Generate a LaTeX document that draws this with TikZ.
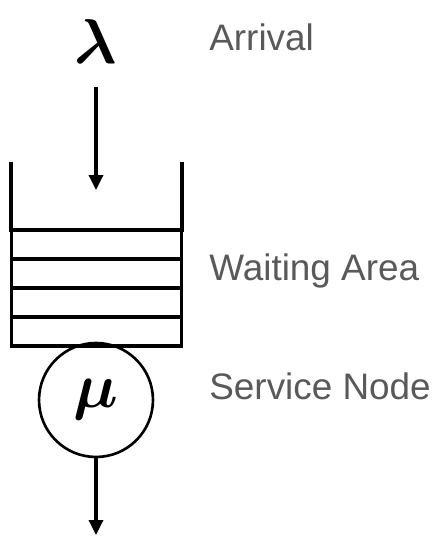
\RequirePackage{fix-cm}
\documentclass[tikz,border=0pt]{standalone}
\usepackage{amsmath}
\usepackage{bm}
\usepackage{fontspec}
\usetikzlibrary{positioning, arrows.meta}
\newfontfamily\labelfont{Liberation Sans}
\definecolor{cLABEL}{HTML}{595959}
\tikzset{
  wall/.style={line width=1.9pt, line cap=rect},
  slot/.style={
    draw, line width=1.9pt,
    inner sep=0pt,
    minimum width=3.4cm,
    minimum height=0.58cm
  },
  server/.style={
    draw, circle, line width=1.5pt,
    inner sep=0pt,
    minimum size=2.28cm,
    font=\fontsize{36}{40}\selectfont
  },
  flow/.style={
    -{Triangle[length=0.3cm,width=0.28cm]},
    line width=1.9pt
  },
  sidelabel/.style={
    anchor=base west,
    font=\labelfont\fontsize{21}{25}\selectfont,
    text=cLABEL,
    inner sep=0pt
  }
}

\begin{document}
\begin{tikzpicture}[x=0.02cm, y=-0.02cm]
  \useasboundingbox (0,0) rectangle (444,542);

  % arrivals
  \node[font=\fontsize{36}{40}\selectfont, inner sep=0pt] (lam) at (96,42) {$\bm{\lambda}$};
  \coordinate (inTip) at (96,190);
  \draw[flow, shorten <=0.45cm] (lam) -- (inTip);

  % waiting area
  \draw[wall] (11,164) -- (11,230);
  \draw[wall] (182,164) -- (182,230);
  \foreach \i in {1,...,4}
    \node[slot] (slot\i) at (96.5,{215.5+29*\i}) {};

  % service node
  \node[server] (srv) at (96,400) {$\bm{\mu}$};
  \coordinate (outTip) at (96,535);
  \draw[flow] (srv) -- (outTip);

  % labels
  \node[sidelabel] (arrival) at (209,50) {Arrival};
  \node[sidelabel] (waiting) at (209,280) {Waiting Area};
  \node[sidelabel] (service) at (209,399) {Service Node};
\end{tikzpicture}
\end{document}
